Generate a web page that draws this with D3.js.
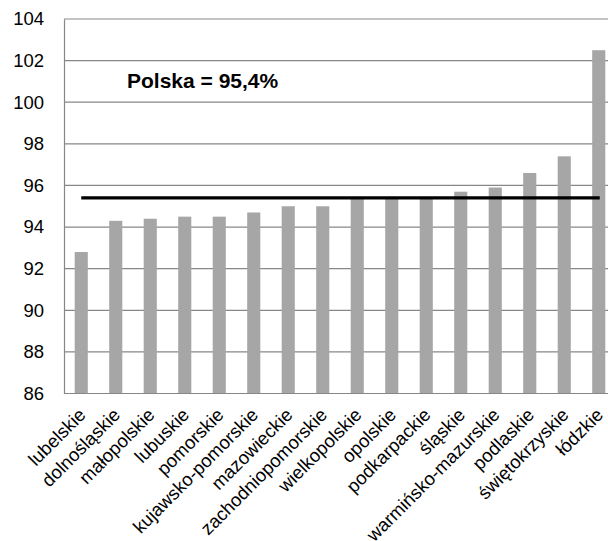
<!DOCTYPE html>
<html><head><meta charset="utf-8">
<script src="https://cdn.jsdelivr.net/npm/d3@7"></script>
<style>body{margin:0;background:#fff}svg{display:block;font-family:"Liberation Sans",Arial,sans-serif}</style>
</head><body><div id="chart"></div>
<script>
const categories = ["lubelskie","dolnośląskie","małopolskie","lubuskie","pomorskie","kujawsko-pomorskie","mazowieckie","zachodniopomorskie","wielkopolskie","opolskie","podkarpackie","śląskie","warmińsko-mazurskie","podlaskie","świętokrzyskie","łódzkie"];
const values = [92.8,94.3,94.4,94.5,94.5,94.7,95.0,95.0,95.4,95.4,95.4,95.7,95.9,96.6,97.4,102.5];
const average = 95.4;
const averageLabel = "Polska = 95,4%";
const yTicks = [86,88,90,92,94,96,98,100,102,104];

(function(){
const W = 608, H = 541;
const mL = 64, mR = 616, mT = 19, mB = 393.5;
const svg = d3.select("#chart").append("svg").attr("width", W).attr("height", H);

const x = d3.scaleBand().domain(categories).range([mL, mR]).paddingInner(0.62).paddingOuter(0.31);
const y = d3.scaleLinear().domain([86, 104]).range([mB, mT]);

svg.append("g").selectAll("line").data(yTicks).join("line")
  .attr("x1", mL).attr("x2", mR)
  .attr("y1", d => y(d)).attr("y2", d => y(d))
  .attr("stroke", "#878787").attr("stroke-width", 1.2);

svg.append("g").selectAll("rect").data(values).join("rect")
  .attr("x", (d, i) => x(categories[i]))
  .attr("width", x.bandwidth())
  .attr("y", d => y(d))
  .attr("height", d => y(86) - y(d))
  .attr("fill", "#a6a6a6");

const yAxis = d3.axisLeft(y).tickValues(yTicks).tickSize(0).tickPadding(20).tickFormat(d3.format("d"));
const ga = svg.append("g").attr("transform", `translate(${mL},0)`).call(yAxis);
ga.select(".domain").attr("stroke", "#878787").attr("stroke-width", 1.2);
ga.selectAll("text").attr("font-size", "18.5px").attr("fill", "#000").attr("font-family", "Liberation Sans, Arial, sans-serif");

svg.append("line").attr("x1", mL).attr("x2", mR).attr("y1", mB).attr("y2", mB)
  .attr("stroke", "#878787").attr("stroke-width", 1.2);

svg.append("g").selectAll("text").data(categories).join("text")
  .attr("transform", d => `translate(${x(d) + x.bandwidth()/2 + 1},${mB + 18}) rotate(-45)`)
  .attr("text-anchor", "end").attr("dy", "0.35em")
  .attr("font-size", "18.5px").attr("fill", "#000")
  .text(d => d);

const cx = c => x(c) + x.bandwidth()/2;
svg.append("line")
  .attr("x1", cx(categories[0])).attr("x2", cx(categories[categories.length-1]) + 1)
  .attr("y1", y(average)).attr("y2", y(average))
  .attr("stroke", "#000").attr("stroke-width", 3.2);

svg.append("text").attr("x", 127).attr("y", 88)
  .attr("font-size", "21px").attr("font-weight", "bold").attr("fill", "#000")
  .text(averageLabel);
})();
</script></body></html>
